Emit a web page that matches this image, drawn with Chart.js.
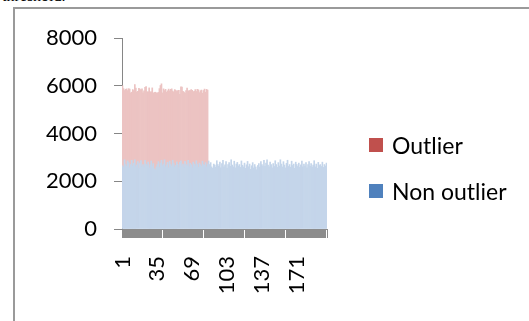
<!DOCTYPE html>
<html>
<head>
<meta charset="utf-8">
<script src="https://cdn.jsdelivr.net/npm/chart.js@4.4.1/dist/chart.umd.min.js"></script>
<style>
  html, body { margin: 0; padding: 0; background: #fff; }
  #wrap { position: relative; width: 529px; height: 321px; overflow: hidden; }
  #frame { position: absolute; left: 13px; top: 7px; width: 530px; height: 330px;
           border-top: 2px solid #9a9a9a; border-left: 2px solid #9a9a9a; }
  #doc { position: absolute; left: 2px; top: -13px; font: 16px "Liberation Serif"; color: #000; }
  #chart { position: absolute; left: 0; top: 0; }
  .leg { position: absolute; left: 369px; height: 23px; display: flex; align-items: center;
         font: 23px Lato, sans-serif; color: #000; }
  .leg span { display: inline-block; width: 14px; height: 14px; margin-right: 9px; }
</style>
</head>
<body>
<div id="wrap">
  <div id="doc">threshold.</div>
  <div id="frame"></div>
  <canvas id="chart" width="529" height="321"></canvas>
  <div class="leg" style="top:133px"><span style="background:#c0504d"></span>Outlier</div>
  <div class="leg" style="top:179px"><span style="background:#4f81bd"></span>Non outlier</div>
</div>
<script>
// non outlier counts, 200 samples
var nonOutlier = [
  2650,2580,2900,2700,2620,2850,2780,2560,2700,2880,
  2640,2750,2900,2600,2680,2820,2540,2760,2870,2620,
  2700,2590,2880,2720,2650,2800,2560,2690,2850,2610,
  2740,2520,2480,2600,2700,2820,2580,2760,2880,2650,
  2720,2900,2600,2680,2790,2560,2840,2700,2620,2880,
  2740,2590,2660,2810,2700,2560,2790,2860,2640,2720,
  2580,2830,2700,2650,2880,2600,2750,2690,2560,2800,
  2720,2640,2860,2700,2580,2760,2690,2620,2840,2700,
  2660,2780,2600,2720,
  2850,2700,2780,2600,2540,2720,2680,2590,2860,2700,
  2620,2800,2560,2740,2880,2600,2690,2820,2550,2700,
  2780,2620,2900,2680,2600,2840,2560,2720,2790,2640,
  2700,2580,2850,2670,2600,2760,2540,2690,2830,2610,
  2720,2500,2650,2780,2560,2700,2600,2480,2660,2740,
  2590,2820,2700,2640,2880,2620,2760,2900,2680,2600,
  2800,2700,2560,2740,2620,2860,2700,2580,2780,2640,
  2900,2720,2600,2820,2680,2560,2750,2880,2620,2700,
  2590,2840,2660,2720,2540,2800,2700,2620,2760,2580,
  2690,2850,2600,2720,2640,2780,2560,2700,2820,2620,
  2740,2590,2680,2860,2600,2720,2540,2790,2660,2700,
  2620,2800,2580,2700,2640,2760
];
// outlier part (stacked on top), only the first samples have it
var outlier = [
  3350,3300,2900,3150,3250,2950,3100,3300,3000,2850,
  3200,3050,3150,3300,3050,2950,3350,3100,2950,3250,
  3000,3200,3050,3250,3100,2950,3350,3050,2900,3300,
  2950,3200,3250,3100,3000,2900,3300,3250,3200,3050,
  3150,2900,3250,3050,3000,3300,2950,3150,3250,2900,
  3000,3250,3150,2950,3100,3250,2850,3100,3300,3050,
  3150,2850,3100,3250,2900,3200,3050,3150,3250,2950,
  3050,3200,2900,3150,3250,2950,3100,3200,2850,3100,
  3200,2950,3250,3100
];
var labels = nonOutlier.map(function (v, i) { return String(i + 1); });
var labelStep = 34;
var yMax = 8000, yStep = 2000;

var font = { family: 'Lato, sans-serif', size: 22 };

new Chart(document.getElementById('chart'), {
  type: 'bar',
  data: {
    labels: labels,
    datasets: [
      { label: 'Non outlier', data: nonOutlier, backgroundColor: '#c4d5ea',
        barPercentage: 1, categoryPercentage: 1 },
      { label: 'Outlier', data: outlier, backgroundColor: '#ecc3c2',
        barPercentage: 1, categoryPercentage: 1 }
    ]
  },
  options: {
    responsive: false,
    animation: false,
    layout: { padding: { top: 38, right: 202, left: 0, bottom: 0 } },
    plugins: { legend: { display: false }, tooltip: { enabled: false } },
    scales: {
      x: {
        stacked: true,
        afterFit: function (s) { s.height = 92; },
        grid: { drawOnChartArea: false, tickLength: 9, color: '#8c8c8c' },
        border: { color: '#8c8c8c' },
        ticks: {
          autoSkip: false, minRotation: 90, maxRotation: 90, padding: 18,
          color: '#000', font: font,
          callback: function (v, i) { return i % labelStep === 0 ? labels[i] : ''; }
        }
      },
      y: {
        stacked: true, min: 0, max: yMax,
        afterFit: function (s) { s.width = 122; },
        grid: { drawOnChartArea: false, tickLength: 8, color: '#868686' },
        border: { color: '#868686' },
        ticks: { stepSize: yStep, padding: 17, color: '#000', font: font,
                 callback: function (v) { return String(v); } }
      }
    }
  }
});
</script>
</body>
</html>
